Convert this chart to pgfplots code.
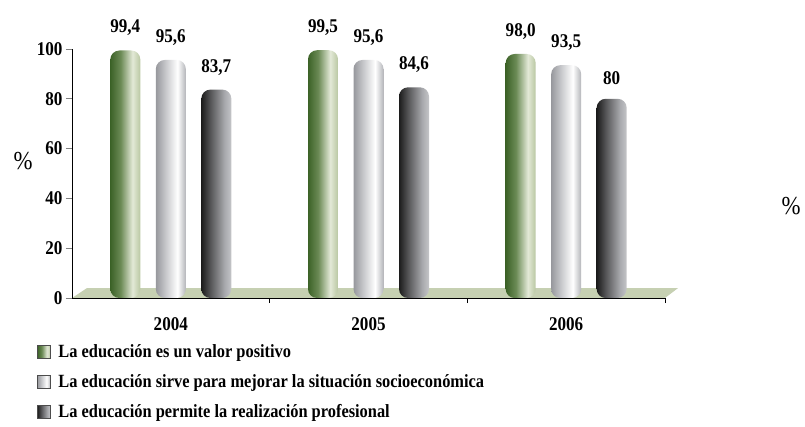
\documentclass[border=0pt]{standalone}
\usepackage{pgfplots}
\pgfplotsset{compat=1.18}
\usepackage{fontspec}
\setmainfont{Liberation Serif}[FakeStretch=0.88]
\definecolor{g1}{HTML}{3C6227}\definecolor{g2}{HTML}{6B8A55}\definecolor{g3}{HTML}{E3E9D7}\definecolor{g4}{HTML}{B9C7A2}
\definecolor{s1}{HTML}{97989D}\definecolor{s2}{HTML}{C9CACD}\definecolor{s3}{HTML}{FFFFFF}\definecolor{s4}{HTML}{B4B5B9}
\definecolor{d1}{HTML}{1C1C1C}\definecolor{d2}{HTML}{555557}\definecolor{d3}{HTML}{A9AAAE}\definecolor{d4}{HTML}{C4C5C8}
\definecolor{floorc}{HTML}{C6D0B2}
\pgfdeclarehorizontalshading{greencyl}{100bp}{color(0bp)=(g1); color(25bp)=(g1); color(42bp)=(g2); color(62bp)=(g3); color(75bp)=(g4); color(100bp)=(g4)}
\pgfdeclarehorizontalshading{silvercyl}{100bp}{color(0bp)=(s1); color(25bp)=(s1); color(42bp)=(s2); color(61bp)=(s3); color(75bp)=(s4); color(100bp)=(s4)}
\pgfdeclarehorizontalshading{darkcyl}{100bp}{color(0bp)=(d1); color(25bp)=(d1); color(40bp)=(d2); color(64bp)=(d3); color(75bp)=(d4); color(100bp)=(d4)}
\pgfplotsset{
  gbar/.style={shade, shading=greencyl, draw=none, rounded corners=9bp, bar shift=-45.5bp,
    legend image code/.code={\shade[shading=greencyl, draw=black!70, line width=0.4pt, sharp corners] (0bp,-6.5bp) rectangle (13bp,6.5bp); \path (19bp,0);}},
  sbar/.style={shade, shading=silvercyl, draw=none, rounded corners=9bp, bar shift=0bp,
    legend image code/.code={\shade[shading=silvercyl, draw=black!70, line width=0.4pt, sharp corners] (0bp,-6.5bp) rectangle (13bp,6.5bp); \path (19bp,0);}},
  dbar/.style={shade, shading=darkcyl, draw=none, rounded corners=9bp, bar shift=45.5bp,
    legend image code/.code={\shade[shading=darkcyl, draw=black!70, line width=0.4pt, sharp corners] (0bp,-6.5bp) rectangle (13bp,6.5bp); \path (19bp,0);}},
}
\begin{document}
\begin{tikzpicture}
\begin{axis}[
  at={(0,0)}, anchor=south west,
  scale only axis, width=593bp, height=249bp,
  xmin=-0.5, xmax=2.5, ymin=0, ymax=100,
  axis lines*=left, axis on top, clip=false,
  axis line style={line width=0.8pt},
  ybar, bar width=30bp,
  xtick={0,1,2}, xticklabels={2004,2005,2006},
  x tick style={draw=none},
  xticklabel style={yshift=-10bp},
  extra x ticks={0.5,1.5,2.5}, extra x tick labels={},
  extra x tick style={x tick style={draw=black, line width=0.8pt}, major tick length=5bp},
  ytick={0,20,...,100}, tick align=outside, major tick length=6bp,
  y tick style={line width=0.8pt},
  tick label style={font=\fontsize{19.5}{20}\selectfont\bfseries},
  /pgf/number format/assume math mode=true,
  point meta=explicit symbolic,
  nodes near coords,
  every node near coord/.append style={font=\fontsize{19.5}{20}\selectfont\bfseries, text=black, anchor=south, yshift=11bp},
  legend style={at={(-0.059,-0.178)}, anchor=north west, draw=none, fill=none,
    font=\fontsize{18.7}{20}\selectfont\bfseries, row sep=11.5bp, inner sep=0pt},
  legend cell align=left,
]
\fill[floorc] (axis cs:-0.5,0) -- (axis cs:-0.424,4) -- (axis cs:2.566,4) -- (axis cs:2.5,0) -- cycle;
\addplot[gbar] coordinates {(0,99.4)[99,4]};
\addplot[sbar] coordinates {(0,95.6)[95,6]};
\addplot[dbar] coordinates {(0,83.7)[83,7]};
\addplot[gbar, forget plot] coordinates {(1,99.5)[99,5]};
\addplot[sbar, forget plot] coordinates {(1,95.6)[95,6]};
\addplot[dbar, forget plot] coordinates {(1,84.6)[84,6]};
\addplot[gbar, forget plot] coordinates {(2,98.0)[98,0]};
\addplot[sbar, forget plot] coordinates {(2,93.5)[93,5]};
\addplot[dbar, forget plot] coordinates {(2,80)[80]};
\legend{La educación es un valor positivo, La educación sirve para mejorar la situación socioeconómica, La educación permite la realización profesional}
\node[font=\fontsize{26}{28}\selectfont] at (axis cs:-0.5,55) [xshift=-49bp] {\%};
\end{axis}
\node[font=\fontsize{26}{28}\selectfont] at (719bp,92bp) {\%};
\pgfresetboundingbox
\path[use as bounding box] (-72bp,-129bp) rectangle (733bp,298bp);
\end{tikzpicture}
\end{document}
